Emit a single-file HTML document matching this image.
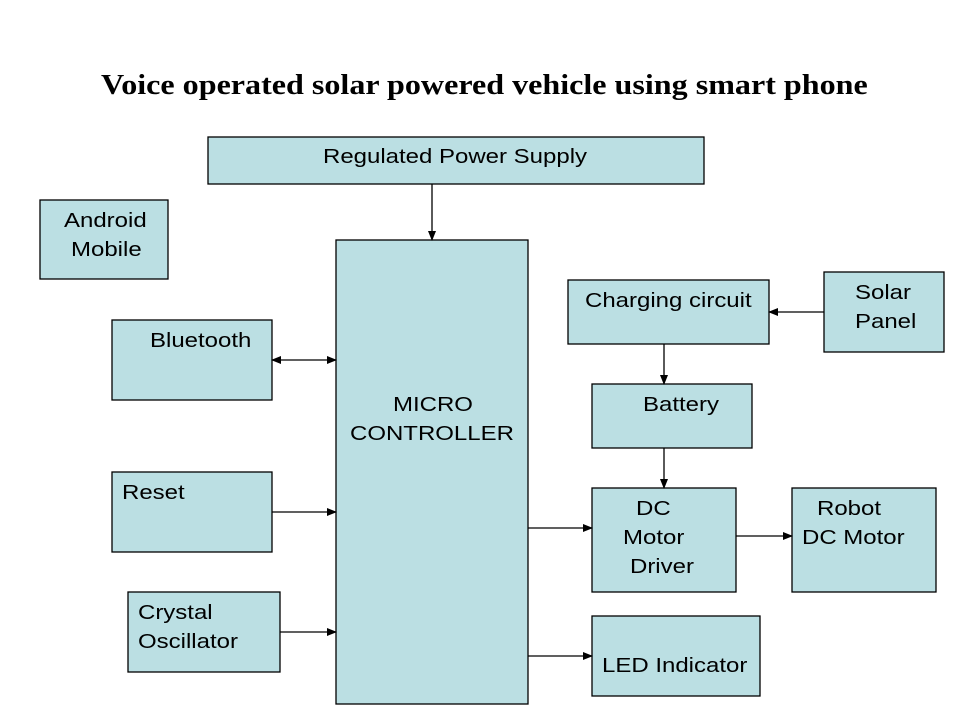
<!DOCTYPE html>
<html><head><meta charset="utf-8"><style>
html,body{margin:0;padding:0;background:#fff;}
svg{display:block;}
text{font-family:"Liberation Sans",Arial,sans-serif;font-size:20px;fill:#000;}
.t{font-family:"Liberation Serif","Times New Roman",serif;font-size:28px;font-weight:bold;}
rect{fill:#BBDFE3;stroke:#000;stroke-width:1.3;}
line{stroke:#000;stroke-width:1.3;}
</style></head><body>
<svg width="960" height="720" viewBox="0 0 960 720">
<defs>
<marker id="a" markerWidth="10" markerHeight="8" refX="9" refY="4" orient="auto" markerUnits="userSpaceOnUse"><path d="M0,0 L10,4 L0,8 Z" fill="#000"/></marker>
<marker id="s" markerWidth="10" markerHeight="8" refX="1" refY="4" orient="auto" markerUnits="userSpaceOnUse"><path d="M10,0 L0,4 L10,8 Z" fill="#000"/></marker>
</defs>
<text class="t" transform="matrix(1.146 0 0 1 101 94)">Voice operated solar powered vehicle using smart phone</text>
<rect x="208" y="137" width="496" height="47"/>
<rect x="40" y="200" width="128" height="79"/>
<rect x="336" y="240" width="192" height="464"/>
<rect x="568" y="280" width="201" height="64"/>
<rect x="824" y="272" width="120" height="80"/>
<rect x="112" y="320" width="160" height="80"/>
<rect x="592" y="384" width="160" height="64"/>
<rect x="112" y="472" width="160" height="80"/>
<rect x="592" y="488" width="144" height="104"/>
<rect x="792" y="488" width="144" height="104"/>
<rect x="128" y="592" width="152" height="80"/>
<rect x="592" y="616" width="168" height="80"/>
<text transform="matrix(1.2 0 0 1 323 163)">Regulated Power Supply</text>
<text transform="matrix(1.2 0 0 1 64 227)">Android</text><text transform="matrix(1.2 0 0 1 71 256)">Mobile</text>
<text transform="matrix(1.2 0 0 1 393 411)">MICRO</text><text transform="matrix(1.2 0 0 1 350 440)">CONTROLLER</text>
<text transform="matrix(1.2 0 0 1 585 307)">Charging circuit</text>
<text transform="matrix(1.2 0 0 1 855 299)">Solar</text><text transform="matrix(1.2 0 0 1 855 328)">Panel</text>
<text transform="matrix(1.2 0 0 1 150 347)">Bluetooth</text>
<text transform="matrix(1.2 0 0 1 643 411)">Battery</text>
<text transform="matrix(1.2 0 0 1 122 499)">Reset</text>
<text transform="matrix(1.2 0 0 1 636 515)">DC</text><text transform="matrix(1.2 0 0 1 623 544)">Motor</text><text transform="matrix(1.2 0 0 1 630 573)">Driver</text>
<text transform="matrix(1.2 0 0 1 817 515)">Robot</text><text transform="matrix(1.2 0 0 1 802 544)">DC Motor</text>
<text transform="matrix(1.2 0 0 1 138 619)">Crystal</text><text transform="matrix(1.2 0 0 1 138 648)">Oscillator</text>
<text transform="matrix(1.2 0 0 1 602 672)">LED Indicator</text>
<line x1="432" y1="184" x2="432" y2="240" marker-end="url(#a)"/>
<line x1="272" y1="360" x2="336" y2="360" marker-start="url(#s)" marker-end="url(#a)"/>
<line x1="272" y1="512" x2="336" y2="512" marker-end="url(#a)"/>
<line x1="280" y1="632" x2="336" y2="632" marker-end="url(#a)"/>
<line x1="528" y1="528" x2="592" y2="528" marker-end="url(#a)"/>
<line x1="528" y1="656" x2="592" y2="656" marker-end="url(#a)"/>
<line x1="824" y1="312" x2="769" y2="312" marker-end="url(#a)"/>
<line x1="664" y1="344" x2="664" y2="384" marker-end="url(#a)"/>
<line x1="664" y1="448" x2="664" y2="488" marker-end="url(#a)"/>
<line x1="736" y1="536" x2="792" y2="536" marker-end="url(#a)"/>
</svg>
</body></html>
